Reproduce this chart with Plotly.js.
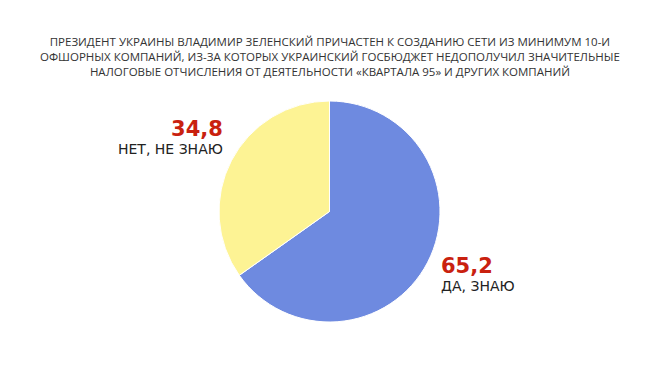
<!DOCTYPE html>
<html>
<head>
<meta charset="utf-8">
<script src="https://cdn.plot.ly/plotly-3.0.1.min.js"></script>
<style>html,body{margin:0;padding:0;background:#fff;}#chart{width:660px;height:368px;}</style>
</head>
<body>
<div id="chart"></div>
<script>
const categories = ["ДА, ЗНАЮ", "НЕТ, НЕ ЗНАЮ"];
const values = [65.2, 34.8];
const valueLabels = ["65,2", "34,8"];
const colors = ["#6e8ae0", "#fdf394"];
const titleText = "ПРЕЗИДЕНТ УКРАИНЫ ВЛАДИМИР ЗЕЛЕНСКИЙ ПРИЧАСТЕН К СОЗДАНИЮ СЕТИ ИЗ МИНИМУМ 10-И<br>ОФШОРНЫХ КОМПАНИЙ, ИЗ-ЗА КОТОРЫХ УКРАИНСКИЙ ГОСБЮДЖЕТ НЕДОПОЛУЧИЛ ЗНАЧИТЕЛЬНЫЕ<br>НАЛОГОВЫЕ ОТЧИСЛЕНИЯ ОТ ДЕЯТЕЛЬНОСТИ «КВАРТАЛА 95» И ДРУГИХ КОМПАНИЙ";

const W = 660, H = 368;
const px = x => x / W;
const py = y => (H - y) / H;

const trace = {
  type: "pie",
  labels: categories,
  values: values,
  sort: false,
  direction: "clockwise",
  rotation: 0,
  textinfo: "none",
  hoverinfo: "label+value",
  marker: {colors: colors, line: {color: "#ffffff", width: 1}},
  domain: {x: [px(219), px(440)], y: [py(322), py(101)]},
  showlegend: false
};

const font = "DejaVu Sans, Open Sans, sans-serif";
function label(i) {
  return "<span style='font-size:21px;color:#c9210f'><b>" + valueLabels[i] +
    "</b></span><br>" + categories[i];
}
const annotations = [
  {text: titleText, x: 0.5, y: py(57), xref: "paper", yref: "paper", xanchor: "center", yanchor: "middle",
   showarrow: false, align: "center", font: {family: "Open Sans, sans-serif", size: 11.5, color: "#333333"}},
  {text: label(1), x: px(225), y: py(137), xref: "paper", yref: "paper", xanchor: "right", yanchor: "middle",
   align: "right", showarrow: false, font: {family: font, size: 14, color: "#222222"}},
  {text: label(0), x: px(439), y: py(274), xref: "paper", yref: "paper", xanchor: "left", yanchor: "middle",
   align: "left", showarrow: false, font: {family: font, size: 14, color: "#222222"}}
];

Plotly.newPlot("chart", [trace], {
  width: W, height: H,
  margin: {l: 0, r: 0, t: 0, b: 0},
  paper_bgcolor: "#ffffff",
  annotations: annotations
}, {displayModeBar: false, staticPlot: true});
</script>
</body>
</html>
